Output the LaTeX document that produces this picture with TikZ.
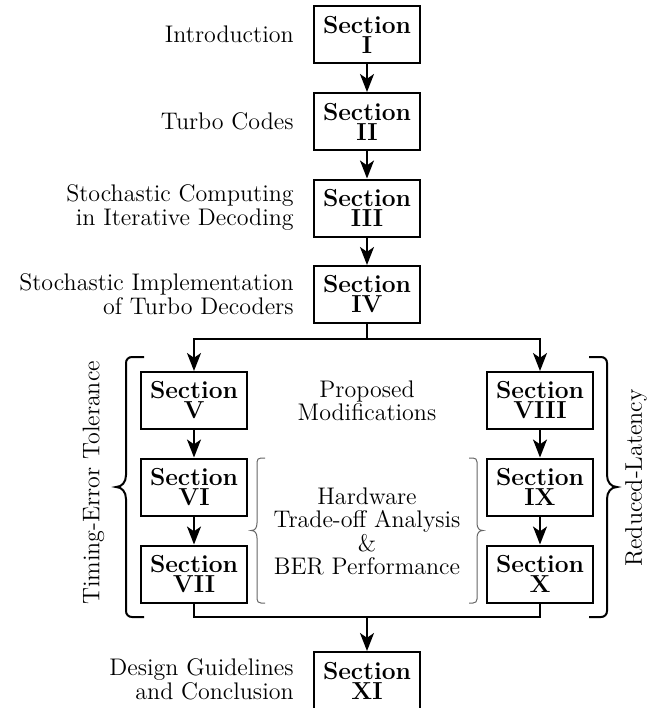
\documentclass[tikz,border=0pt]{standalone}
\usetikzlibrary{arrows.meta,calc}
\begin{document}
\begin{tikzpicture}[x=0.5pt,y=-0.5pt,
  secbox/.style={draw, line width=1pt, minimum width=53pt, minimum height=28.5pt,
    inner sep=0pt, align=center, font=\fontsize{12.3}{10}\selectfont\bfseries},
  lbl/.style={inner sep=0pt, align=right, anchor=east, font=\fontsize{12}{12}\selectfont},
  ctext/.style={inner sep=0pt, align=center, font=\fontsize{12}{11.7}\selectfont},
  flow/.style={line width=0.8pt, -{Stealth[length=9pt,width=7pt,inset=2.4pt]}},
  link/.style={line width=0.8pt},
  bigbrace/.style={line width=1pt},
  smallbrace/.style={line width=0.5pt, black!60},
]
\useasboundingbox (0,0) rectangle (661,708);

% section boxes
\node[secbox] (s1)  at (367,34.5)  {Section\\I};
\node[secbox] (s2)  at (367,121.5) {Section\\II};
\node[secbox] (s3)  at (367,208)   {Section\\III};
\node[secbox] (s4)  at (367,294.5) {Section\\IV};
\node[secbox] (s5)  at (194,400.5) {Section\\V};
\node[secbox] (s6)  at (194,487)   {Section\\VI};
\node[secbox] (s7)  at (194,574)   {Section\\VII};
\node[secbox] (s8)  at (540,400.5) {Section\\VIII};
\node[secbox] (s9)  at (540,487)   {Section\\IX};
\node[secbox] (s10) at (540,574)   {Section\\X};
\node[secbox] (s11) at (367,680.5) {Section\\XI};

% section titles
\node[lbl] (l1)  at ($(s1.west)+(-19,0)$)  {Introduction};
\node[lbl] (l2)  at ($(s2.west)+(-19,0)$)  {Turbo Codes};
\node[lbl] (l3)  at ($(s3.west)+(-19,0)$)  {Stochastic Computing\\in Iterative Decoding};
\node[lbl] (l4)  at ($(s4.west)+(-19,0)$)  {Stochastic Implementation\\of Turbo Decoders};
\node[lbl] (l11) at ($(s11.west)+(-19,-1)$) {Design Guidelines\\and Conclusion};

% group captions
\node[ctext] (pm) at (367,400.5) {Proposed\\Modifications};
\node[ctext] (hw) at (367,531.5) {Hardware\\Trade-off Analysis\\\&\\BER Performance};
\node[ctext, rotate=90] (tet) at (93.5,483) {Timing-Error Tolerance};
\node[ctext, rotate=90] (rl)  at (636,478) {Reduced-Latency};

% main chain
\draw[flow] (s1.south) -- (s2.north);
\draw[flow] (s2.south) -- (s3.north);
\draw[flow] (s3.south) -- (s4.north);

% split into the two branches
\draw[link] (s4.south) -- ++(0,15) coordinate (split);
\draw[flow] (split) -| (s5.north);
\draw[flow] (split) -| (s8.north);
\draw[flow] (s5.south) -- (s6.north);
\draw[flow] (s6.south) -- (s7.north);
\draw[flow] (s8.south) -- (s9.north);
\draw[flow] (s9.south) -- (s10.north);

% merge into the conclusion
\coordinate (merge) at ($(s11.north)+(0,-34)$);
\draw[link] (s7.south) |- (merge) -| (s10.south);
\draw[flow] (merge) -- (s11.north);

% large braces around the two branches
\draw[bigbrace] (144,357) -- (132,357) .. controls (128.5,357) and (126,359.5) .. (126,363)
  -- (126,475) .. controls (126,482) and (122,487) .. (116,487)
  .. controls (122,487) and (126,492) .. (126,499)
  -- (126,611) .. controls (126,614.5) and (128.5,617) .. (132,617) -- (144,617);
\draw[bigbrace] (589,357) -- (601,357) .. controls (604.5,357) and (607,359.5) .. (607,363)
  -- (607,475) .. controls (607,482) and (611,487) .. (617,487)
  .. controls (611,487) and (607,492) .. (607,499)
  -- (607,611) .. controls (607,614.5) and (604.5,617) .. (601,617) -- (589,617);

% small braces around the analysis caption
\draw[smallbrace] (265,458) -- (261,458) .. controls (258.5,458) and (257,459.5) .. (257,462)
  -- (257,523) .. controls (257,528) and (255,530.5) .. (251,530.5)
  .. controls (255,530.5) and (257,533) .. (257,538)
  -- (257,599) .. controls (257,601.5) and (258.5,603) .. (261,603) -- (265,603);
\draw[smallbrace] (469,458) -- (473,458) .. controls (475.5,458) and (477,459.5) .. (477,462)
  -- (477,523) .. controls (477,528) and (479,530.5) .. (483,530.5)
  .. controls (479,530.5) and (477,533) .. (477,538)
  -- (477,599) .. controls (477,601.5) and (475.5,603) .. (473,603) -- (469,603);
\end{tikzpicture}
\end{document}
